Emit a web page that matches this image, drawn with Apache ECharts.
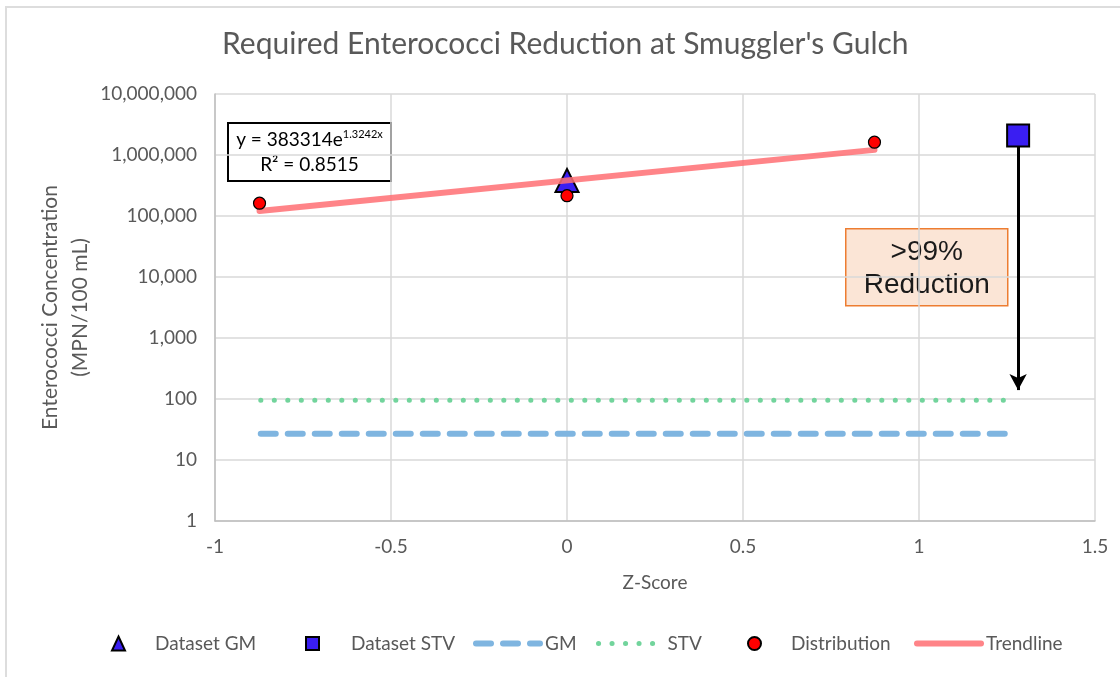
<!DOCTYPE html>
<html>
<head>
<meta charset="utf-8">
<script src="https://cdn.jsdelivr.net/npm/echarts@6/dist/echarts.min.js"></script>
<style>
  html, body { margin: 0; padding: 0; background: #fff; }
  #chart { width: 1120px; height: 677px; }
</style>
</head>
<body>
<div id="chart"></div>
<script>
// z-scores and concentrations
const distZ = [-0.8735, 0, 0.8735];
const distVal = [162000, 215000, 1620000];
const gmZ = [0];
const gmVal = [383314];
const stvZ = [1.2816];
const stvVal = [2090000];
const limitZ = [-0.87, 1.25];
const gmLimit = [27, 27];
const stvLimit = [95, 95];
const trendZ = [-0.8735, 0.8735];
const trendVal = [121000, 1213000];
const arrowEnd = 140;

const FONT = 'Lato, "Noto Sans", sans-serif';
const GREY = '#595959';

const pairs = (xs, ys) => xs.map((x, i) => [x, ys[i]]);

const chart = echarts.init(document.getElementById('chart'));

// one legend box per item so every entry sits where Excel put it
const legendItem = (name, left, w, h, pad, isLine) => ({
  data: [name],
  left: left,
  top: 634,
  padding: 0,
  itemWidth: w,
  itemHeight: h,
  selectedMode: false,
  // line entries: no marker in the middle, keep the series dash and width
  itemStyle: isLine ? { opacity: 0 } : {},
  lineStyle: isLine ? { width: 'inherit' } : {},
  formatter: '{t|' + name + '}',
  textStyle: {
    rich: { t: { fontFamily: FONT, fontSize: 19, color: GREY, padding: [0, 0, 0, pad] } }
  }
});

const option = {
  animation: false,
  backgroundColor: '#fff',
  title: {
    text: "Required Enterococci Reduction at Smuggler's Gulch",
    left: 217,
    top: 24,
    textStyle: { fontFamily: FONT, fontSize: 30, fontWeight: 'normal', color: GREY }
  },
  legend: [
    legendItem('Dataset GM', 111, 13, 14, 25, false),
    legendItem('Dataset STV', 305, 13, 13, 27, false),
    legendItem('GM', 473, 64, 14, 0, true),
    legendItem('STV', 596, 61, 14, 3, true),
    legendItem('Distribution', 747, 13, 13, 25, false),
    legendItem('Trendline', 914, 64, 14, 0, true)
  ],
  grid: { left: 215, right: 25, top: 94, bottom: 156 },
  xAxis: {
    type: 'value',
    min: -1,
    max: 1.5,
    interval: 0.5,
    name: 'Z-Score',
    nameLocation: 'middle',
    nameGap: 52,
    nameTextStyle: { fontFamily: FONT, fontSize: 19, color: GREY },
    axisLine: { onZero: false, lineStyle: { color: '#BFBFBF', width: 1.5 } },
    axisTick: { show: false },
    axisLabel: { fontFamily: FONT, fontSize: 19, color: GREY, margin: 16 },
    splitLine: { lineStyle: { color: '#D9D9D9', width: 1.5 } }
  },
  yAxis: {
    type: 'log',
    logBase: 10,
    min: 1,
    max: 10000000,
    splitNumber: 7,
    name: 'Enterococci Concentration\n(MPN/100 mL)',
    nameLocation: 'middle',
    nameGap: 120,
    nameMoveOverlap: false,
    nameTextStyle: { fontFamily: FONT, fontSize: 21, color: GREY, lineHeight: 30 },
    axisLine: { show: true, onZero: false, lineStyle: { color: '#BFBFBF', width: 1.5 } },
    axisTick: { show: false },
    axisLabel: {
      fontFamily: FONT, fontSize: 19, color: GREY, margin: 18,
      formatter: v => Math.round(v).toLocaleString('en-US')
    },
    splitLine: { lineStyle: { color: '#D9D9D9', width: 1.5 } }
  },
  series: [
    {
      name: 'Dataset GM',
      type: 'scatter',
      symbol: 'triangle',
      symbolSize: [23, 23],
      z: 3,
      itemStyle: { color: '#3A1EF2', opacity: 1, borderColor: '#000', borderWidth: 2 },
      data: pairs(gmZ, gmVal)
    },
    {
      name: 'Dataset STV',
      type: 'scatter',
      symbol: 'rect',
      symbolSize: 22,
      z: 6,
      itemStyle: { color: '#3A1EF2', opacity: 1, borderColor: '#000', borderWidth: 2 },
      data: pairs(stvZ, stvVal)
    },
    {
      name: 'GM',
      type: 'line',
      showSymbol: false,
      symbol: 'none',
      z: 2,
      lineStyle: { color: '#7FB5E0', width: 6, type: [15, 12], cap: 'round' },
      itemStyle: { color: '#7FB5E0' },
      data: pairs(limitZ, gmLimit),
      // reduction arrow from the dataset STV down to the STV limit
      markLine: {
        silent: true,
        z: 1,
        symbol: ['none', 'arrow'],
        symbolSize: [13, 16],
        label: { show: false },
        lineStyle: { color: '#000', width: 3, type: 'solid' },
        data: [[{ coord: [stvZ[0], stvVal[0]] }, { coord: [stvZ[0], arrowEnd] }]]
      }
    },
    {
      name: 'STV',
      type: 'line',
      showSymbol: false,
      symbol: 'none',
      z: 2,
      lineStyle: { color: '#72D49C', width: 5, type: [0.1, 13.4], cap: 'round' },
      itemStyle: { color: '#72D49C' },
      data: pairs(limitZ, stvLimit)
    },
    {
      name: 'Trendline',
      type: 'line',
      showSymbol: false,
      symbol: 'none',
      z: 4,
      lineStyle: { color: '#FF6E73', width: 6, opacity: 0.85, cap: 'round' },
      itemStyle: { color: '#FF7C80' },
      data: pairs(trendZ, trendVal)
    },
    {
      name: 'Distribution',
      type: 'scatter',
      symbol: 'circle',
      symbolSize: 12,
      z: 5,
      itemStyle: { color: '#FF0000', opacity: 1, borderColor: '#000', borderWidth: 1.2 },
      data: pairs(distZ, distVal)
    }
  ],
  graphic: [
    {
      type: 'rect',
      silent: true,
      shape: { x: 6, y: 7, width: 1200, height: 700 },
      style: { fill: null, stroke: '#DDDDDD', lineWidth: 2 }
    },
    {
      type: 'group',
      left: 227,
      top: 122,
      children: [
        {
          type: 'rect',
          shape: { x: 0, y: 0, width: 163, height: 58 },
          style: { fill: '#fff', stroke: '#000', lineWidth: 2 }
        },
        {
          type: 'text',
          x: 81.5,
          y: 29,
          style: {
            text: '{a|y = 383314e}{s|1.3242x}\n{a|R² = 0.8515}',
            align: 'center',
            verticalAlign: 'middle',
            rich: {
              a: { fontFamily: FONT, fontSize: 19, color: GREY, lineHeight: 25 },
              s: { fontFamily: FONT, fontSize: 11, color: GREY, lineHeight: 25, padding: [0, 0, 10, 0] }
            }
          }
        }
      ]
    },
    {
      type: 'group',
      left: 845,
      top: 228,
      z: 10,
      children: [
        {
          type: 'rect',
          shape: { x: 0, y: 0, width: 162, height: 77 },
          style: { fill: '#FBE5D6', stroke: '#ED7D31', lineWidth: 1.5 }
        },
        {
          type: 'text',
          x: 81,
          y: 40,
          style: {
            text: '>99%\nReduction',
            align: 'center',
            verticalAlign: 'middle',
            font: '28px "Liberation Sans", Arial, sans-serif',
            lineHeight: 33,
            fill: '#1a1a1a'
          }
        }
      ]
    }
  ]
};

option && chart.setOption(option);
</script>
</body>
</html>
